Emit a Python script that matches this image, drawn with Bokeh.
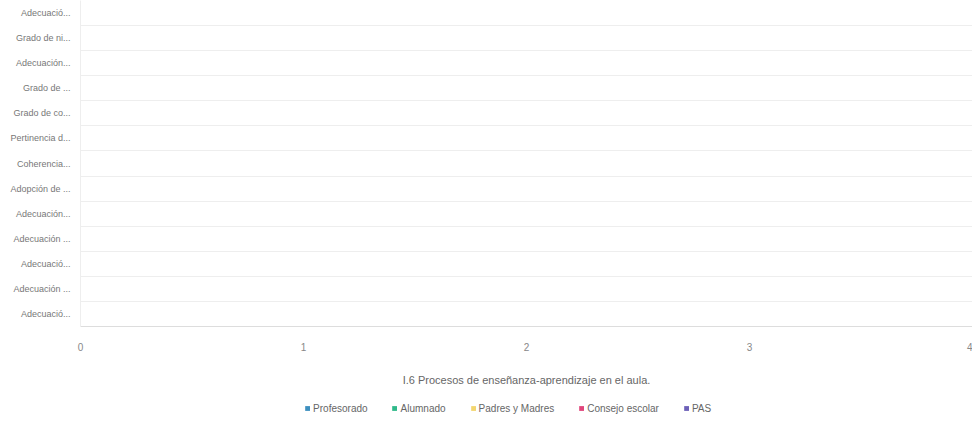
from bokeh.plotting import figure
from bokeh.models import ColumnDataSource, FixedTicker, Legend, LegendItem, Range1d
from bokeh.layouts import column
from bokeh.embed import file_html
from bokeh.resources import INLINE

categories = [
    "Adecuació...", "Grado de ni...", "Adecuación...", "Grado de ...",
    "Grado de co...", "Pertinencia d...", "Coherencia...", "Adopción de ...",
    "Adecuación...", "Adecuación ...", "Adecuació...", "Adecuación ...",
    "Adecuació...",
]
series_names = ["Profesorado", "Alumnado", "Padres y Madres", "Consejo escolar", "PAS"]
series_colors = ["#3d8fbf", "#2fb98a", "#f3d66f", "#e0457b", "#6d60b8"]
profesorado = [0] * 13
alumnado = [0] * 13
padres = [0] * 13
consejo = [0] * 13
pas = [0] * 13
series_values = [profesorado, alumnado, padres, consejo, pas]
x_ticks = [0, 1, 2, 3, 4]
title_text = "I.6 Procesos de enseñanza-aprendizaje en el aula."

FONT = "Liberation Sans"
n = len(categories)
ypos = list(range(n))

p = figure(frame_width=892, frame_height=326, output_backend="svg", toolbar_location=None,
           x_range=Range1d(0, 4), y_range=Range1d(n - 0.5, -0.5),
           min_border_right=0, min_border_top=0, min_border_left=80, min_border_bottom=64,
           outline_line_color=None)

# legend strip below the chart
p2 = figure(width=972, height=36, output_backend="svg", toolbar_location=None,
            x_range=Range1d(0, 4), y_range=Range1d(n - 0.5, -0.5),
            x_axis_location=None, y_axis_location=None,
            min_border_left=0, min_border_right=36, min_border_top=0, min_border_bottom=0,
            outline_line_color=None)
p2.grid.visible = False

bar_h = 0.8 / len(series_names)
items = []
for i, (name, vals, col) in enumerate(zip(series_names, series_values, series_colors)):
    src = ColumnDataSource(dict(y=[y - 0.4 + bar_h * (i + 0.5) for y in ypos], right=vals))
    p.hbar(y="y", left=0, right="right", height=bar_h, source=src,
           fill_color=col, line_color=None)
    r2 = p2.hbar(y="y", left=0, right="right", height=bar_h, source=src,
                 fill_color=col, line_color=None)
    items.append(LegendItem(label=name, renderers=[r2]))

p.yaxis.ticker = FixedTicker(ticks=ypos)
p.yaxis.major_label_overrides = {i: c for i, c in enumerate(categories)}
p.yaxis.major_tick_line_color = None
p.yaxis.minor_tick_line_color = None
p.yaxis.axis_line_color = "#eeeeee"
p.yaxis.major_label_text_font = FONT
p.yaxis.major_label_text_font_size = "9px"
p.yaxis.major_label_text_color = "#777777"
p.yaxis.major_label_standoff = 4

p.xaxis.ticker = FixedTicker(ticks=x_ticks)
p.xaxis.major_tick_line_color = None
p.xaxis.minor_tick_line_color = None
p.xaxis.axis_line_color = "#dddddd"
p.xaxis.major_label_text_font = FONT
p.xaxis.major_label_text_font_size = "10px"
p.xaxis.major_label_text_color = "#888888"
p.xaxis.major_label_standoff = 10
p.xaxis.axis_label = title_text
p.xaxis.axis_label_text_font = FONT
p.xaxis.axis_label_text_font_size = "11px"
p.xaxis.axis_label_text_font_style = "normal"
p.xaxis.axis_label_text_color = "#666666"
p.xaxis.axis_label_standoff = 20

p.xgrid.visible = False
p.ygrid.ticker = FixedTicker(ticks=[y + 0.5 for y in range(-1, n)])
p.ygrid.grid_line_color = "#eeeeee"

legend = Legend(items=items, orientation="horizontal", location="center",
                label_text_font=FONT, label_text_font_size="10px",
                label_text_color="#666666", glyph_width=6, glyph_height=6,
                label_height=12, label_standoff=3, spacing=24, padding=0, margin=0,
                border_line_color=None, background_fill_alpha=0)
p2.add_layout(legend, "center")

layout = column(p, p2, spacing=0)
open("out.html", "w").write(file_html(layout, INLINE))
